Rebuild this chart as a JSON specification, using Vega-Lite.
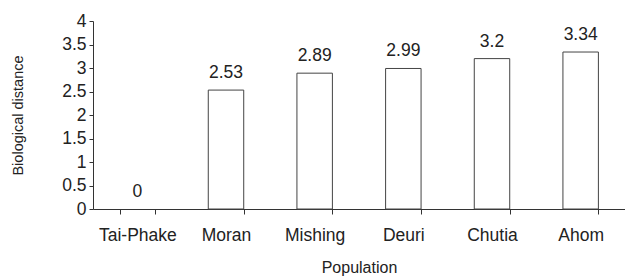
{
  "$schema": "https://vega.github.io/schema/vega-lite/v6.json",
  "autosize": {"type": "none"},
  "width": 532,
  "height": 188,
  "padding": {"left": 93, "top": 21, "right": 0, "bottom": 67},
  "background": "white",
  "config": {
    "view": {"stroke": null},
    "font": "Liberation Sans",
    "axis": {"grid": false, "zindex": 1, "domainColor": "#333", "tickColor": "#333", "labelColor": "#222", "titleColor": "#222", "labelFont": "Liberation Sans", "titleFont": "Liberation Sans", "titleFontWeight": "normal"}
  },
  "data": {
    "values": [
      {"population": "Tai-Phake", "distance": 0},
      {"population": "Moran", "distance": 2.53},
      {"population": "Mishing", "distance": 2.89},
      {"population": "Deuri", "distance": 2.99},
      {"population": "Chutia", "distance": 3.2},
      {"population": "Ahom", "distance": 3.34}
    ]
  },
  "encoding": {
    "x": {
      "field": "population", "type": "nominal", "sort": null,
      "scale": {"paddingInner": 0.6, "paddingOuter": 0.3},
      "axis": {"title": "Population", "labelAngle": 0, "labelFontSize": 17.5, "labelPadding": 12, "tickSize": 5, "tickBand": "extent", "titleFontSize": 16, "titleY": 50, "titleBaseline": "top", "domainWidth": 1}
    },
    "y": {
      "field": "distance", "type": "quantitative",
      "scale": {"domain": [0, 4]},
      "axis": {"title": "Biological distance", "values": [0, 0.5, 1, 1.5, 2, 2.5, 3, 3.5, 4], "format": "~g", "labelFontSize": 17.5, "labelPadding": 3, "tickSize": 4, "titleFontSize": 14.5, "titleX": -75, "titleBaseline": "middle"}
    }
  },
  "layer": [
    {"mark": {"type": "bar", "fill": "white", "stroke": "#444", "strokeWidth": 1},
     "encoding": {"opacity": {"condition": {"test": "datum.distance == 0", "value": 0}, "value": 1}}},
    {"mark": {"type": "text", "baseline": "alphabetic", "dy": -12, "fontSize": 17.5, "color": "#222"}, "encoding": {"text": {"field": "distance", "type": "quantitative"}}}
  ]
}
